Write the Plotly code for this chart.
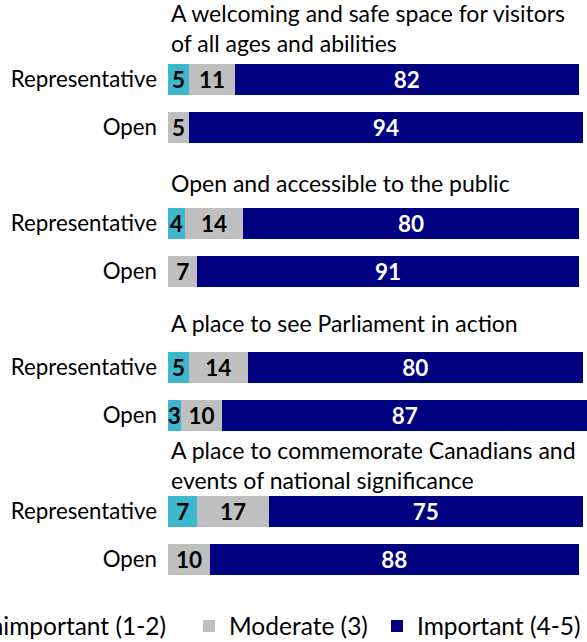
import plotly.graph_objects as go

# Survey questions (one group of two rows per question)
questions = [
    "A welcoming and safe space for visitors<br>of all ages and abilities",
    "Open and accessible to the public",
    "A place to see Parliament in action",
    "A place to commemorate Canadians and<br>events of national significance",
]
samples = ["Representative", "Open"]

# Percentages per rating band, Representative then Open sample for each question
unimportant_rep = [5, 4, 5, 7]
unimportant_open = [0, 0, 3, 0]
moderate_rep = [11, 14, 14, 17]
moderate_open = [5, 7, 10, 10]
important_rep = [82, 80, 80, 75]
important_open = [94, 91, 87, 88]

series = [
    ("Unimportant (1-2)", unimportant_rep, unimportant_open, "#3cb7cc", "#000000"),
    ("Moderate (3)", moderate_rep, moderate_open, "#bfbfbf", "#000000"),
    ("Important (4-5)", important_rep, important_open, "#000080", "#ffffff"),
]

FONT = "Lato"
W, H = 587, 642
L_MARGIN = 168
PLOT_W = W - L_MARGIN
ROW_PX = 48          # vertical pitch of one row slot
TOP_PX = 31.5        # centre of the first slot
PLOT_BOTTOM = 600    # bottom of plot area in px

# Row positions: slot 3g is the question heading, 3g+1 Representative, 3g+2 Open
ypos, ylabels = [], []
for g in range(len(questions)):
    ypos += [3 * g + 1, 3 * g + 2]
    ylabels += samples

legend_ids = ["legend", "legend2", "legend3"]

fig = go.Figure()
for (name, rep, opn, color, tcolor), lid in zip(series, legend_ids):
    vals = []
    for r, o in zip(rep, opn):
        vals += [r, o]
    fig.add_trace(go.Bar(
        name=name,
        orientation="h",
        x=vals,
        y=ypos,
        width=0.65,
        marker=dict(color=color, line=dict(width=0)),
        text=[str(v) if v else "" for v in vals],
        textposition="inside",
        insidetextanchor="middle",
        textangle=0,
        constraintext="none",
        textfont=dict(family=FONT, size=22.5, color=tcolor, weight="bold"),
        hoverinfo="skip",
        legend=lid,
    ))

# Question headings above each pair of rows (offset in row units from the Representative row)
heading_offsets = [1.07, 0.84, 0.93, 0.96]
for g, (q, off) in enumerate(zip(questions, heading_offsets)):
    fig.add_annotation(
        text=q, xref="paper", yref="y",
        x=1 / PLOT_W, y=3 * g + 1 - off,
        xanchor="left", yanchor="middle", align="left",
        showarrow=False,
        font=dict(family=FONT, size=23, color="#000000"),
    )

y_top = -TOP_PX / ROW_PX
y_bot = (PLOT_BOTTOM - TOP_PX) / ROW_PX


def px_to_paper(px):
    return (px - L_MARGIN) / PLOT_W


legend_y = -26 / PLOT_BOTTOM
legend_common = dict(
    orientation="h", y=legend_y, yanchor="middle",
    font=dict(family=FONT, size=24.5, color="#000000"),
    bgcolor="rgba(0,0,0,0)", borderwidth=0,
)

fig.update_layout(
    width=W, height=H,
    barmode="stack",
    plot_bgcolor="white", paper_bgcolor="white",
    margin=dict(l=L_MARGIN, r=0, t=0, b=H - PLOT_BOTTOM, pad=0, autoexpand=False),
    uniformtext=dict(minsize=22.5, mode="show"),
    font=dict(family=FONT, size=22, color="#000000"),
    xaxis=dict(range=[0, 100], visible=False, fixedrange=True),
    yaxis=dict(
        range=[y_bot, y_top],
        tickmode="array", tickvals=ypos, ticktext=ylabels,
        showgrid=False, zeroline=False, showline=False,
        ticks="", ticklabelstandoff=10,
        tickfont=dict(family=FONT, size=22.3, color="#000000"),
        fixedrange=True,
    ),
    showlegend=True,
    legend=dict(legend_common, x=px_to_paper(172), xanchor="right"),
    legend2=dict(legend_common, x=px_to_paper(189), xanchor="left"),
    legend3=dict(legend_common, x=px_to_paper(377), xanchor="left"),
)

fig.write_html("out.html")
